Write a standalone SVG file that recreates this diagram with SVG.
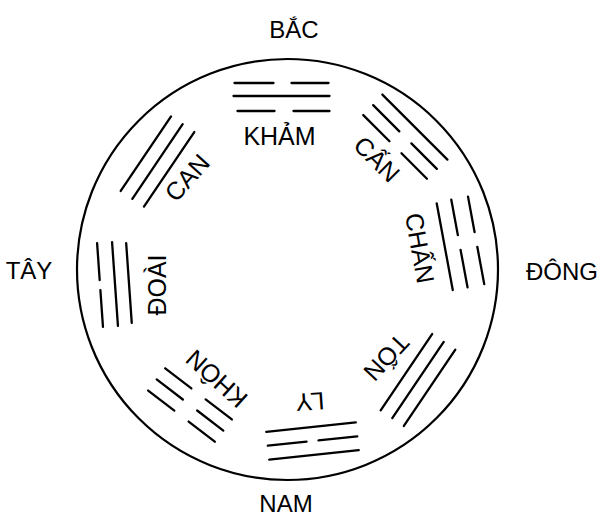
<svg xmlns="http://www.w3.org/2000/svg" width="603" height="518" viewBox="0 0 603 518">
<defs>
<style>
.ln{stroke:#000;stroke-width:2.3;stroke-linecap:round;fill:none}
.t{font-family:"Liberation Sans",Arial,sans-serif;font-size:25px;text-anchor:middle;fill:#000}
.c{font-family:"Liberation Sans",Arial,sans-serif;font-size:24px;text-anchor:middle;fill:#000}
</style>
</defs>
<rect width="603" height="518" fill="#fff"/>
<g id="connectors">
<circle cx="287.5" cy="269.5" r="210.5" fill="none" stroke="#000" stroke-width="2.2"/>
</g>
<g id="bac"><text class="c" x="294" y="38">BẮC</text></g>
<g id="tay"><text class="c" x="29" y="279">TÂY</text></g>
<g id="dong"><text class="c" x="562" y="280">ĐÔNG</text></g>
<g id="nam"><text class="c" x="286" y="512">NAM</text></g>

<g id="kham">
<g transform="translate(281.5,96)">
<path class="ln" d="M-47,-13H-8M10,-13H47M-48,0H48M-44,15H-7M12,15H48"/>
</g>
<text class="t" transform="translate(279.5,136)" y="9">KHẢM</text>
</g>

<g id="can-ne">
<g transform="translate(405,137) rotate(45)">
<path class="ln" d="M-46,-14H46M-45,0H-8M9,0H45M-45,14H-8M9,14H45"/>
</g>
<text class="t" transform="translate(377,159) rotate(45)" y="9">CẤN</text>
</g>

<g id="chan">
<g transform="translate(459.5,244) rotate(79.5)">
<path class="ln" d="M-45,-17H-9M6,-17H44M-45,0H-9M6,0H44M-44,15H44"/>
</g>
<text class="t" transform="translate(420,248) rotate(80)" y="9">CHẤN</text>
</g>

<g id="ton">
<g transform="translate(418,380) rotate(124)">
<path class="ln" d="M-46,-14H46M-46,0H46M-46,14H46"/>
</g>
<text class="t" transform="translate(386.5,357.5) rotate(133)" y="9">TỐN</text>
</g>

<g id="ly">
<g transform="translate(312.5,441) rotate(174)">
<path class="ln" d="M-45,-14H45M-45,0H-6M6,0H45M-45,14H45"/>
</g>
<text class="t" transform="translate(310,402) rotate(176)" y="9">LY</text>
</g>

<g id="khon">
<g transform="translate(190,405) rotate(217.5)">
<path class="ln" d="M-42,-14H-9M9,-14H42M-42,0H-9M9,0H42M-42,14H-9M9,14H42"/>
</g>
<text class="t" transform="translate(216.5,379) rotate(222)" y="9">KHÔN</text>
</g>

<g id="doai">
<g transform="translate(115,284) rotate(266)">
<path class="ln" d="M-42,-15H-5M5,-15H42M-42,0H42M-40,14H40"/>
</g>
<text class="t" transform="translate(157,285) rotate(270)" y="9">ĐOÀI</text>
</g>

<g id="can-nw">
<g transform="translate(157.5,161.5) rotate(-56)">
<path class="ln" d="M-45,-14H45M-45,0H45M-45,14H45"/>
</g>
<text class="t" transform="translate(187,177.5) rotate(-48)" y="9">CAN</text>
</g>
</svg>
